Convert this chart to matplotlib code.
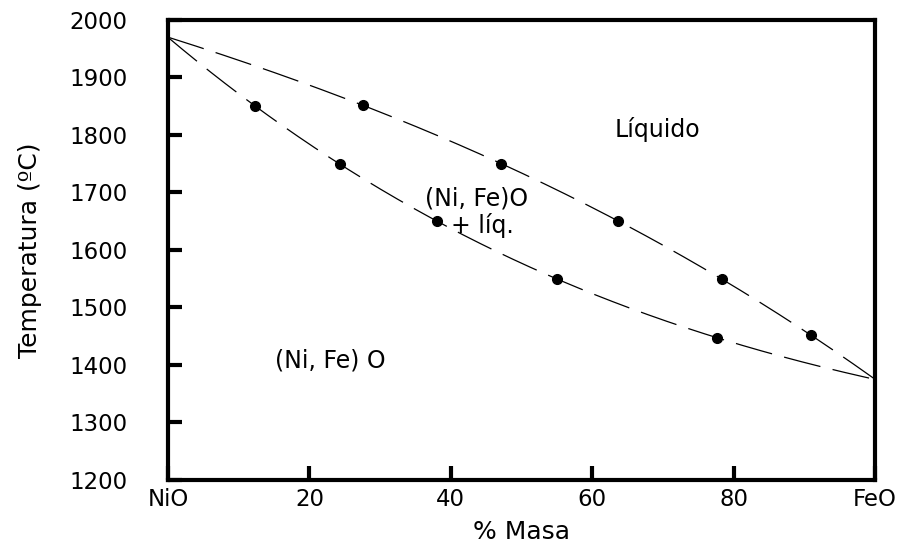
import numpy as np
import matplotlib.pyplot as plt

# Phase diagram NiO - FeO: measured points on the two boundary curves
x_end = np.array([0.0, 100.0])
t_end = np.array([1970.0, 1375.0])

x_lower = np.array([12.3, 24.3, 38.0, 55.0, 77.7])
t_lower = np.array([1850, 1750, 1650, 1550, 1447])

x_upper = np.array([27.6, 47.1, 63.6, 78.4, 90.9])
t_upper = np.array([1852, 1750, 1650, 1550, 1452])

x_ticks = [0, 20, 40, 60, 80, 100]
x_labels = ['NiO', '20', '40', '60', '80', 'FeO']
y_ticks = [1200, 1300, 1400, 1500, 1600, 1700, 1800, 1900, 2000]

plt.rcParams['font.family'] = 'DejaVu Sans'
plt.rcParams['lines.scale_dashes'] = False

fig = plt.figure(figsize=(8.97, 5.46), dpi=100)
ax = fig.add_axes([0.1873, 0.1209, 0.7882, 0.8425])

# Smooth boundary curves fitted through the points and the pure-oxide melting points
xs = np.linspace(0, 100, 300)
for xp, tp in [(x_lower, t_lower), (x_upper, t_upper)]:
    xx = np.concatenate([x_end[:1], xp, x_end[1:]])
    tt = np.concatenate([t_end[:1], tp, t_end[1:]])
    coef = np.polyfit(xx, tt, 3)
    ax.plot(xs, np.polyval(coef, xs), color='black', lw=0.9,
            dashes=(27, 9), clip_on=False)
    ax.plot(xp, tp, 'o', color='black', ms=7)

ax.text(69.2, 1810, 'Líquido', fontsize=17, ha='center', va='center')
ax.text(43.7, 1690, '(Ni, Fe)O', fontsize=17, ha='center', va='center')
ax.text(44.5, 1643, '+ líq.', fontsize=17, ha='center', va='center')
ax.text(23.0, 1407, '(Ni, Fe) O', fontsize=17, ha='center', va='center')

ax.set_xlim(0, 100)
ax.set_ylim(1200, 2000)
ax.set_xticks(x_ticks)
ax.set_xticklabels(x_labels)
ax.set_yticks(y_ticks)

for s in ax.spines.values():
    s.set_linewidth(3)
ax.tick_params(direction='in', length=10, width=3, labelsize=16.5)
ax.tick_params(axis='y', pad=29)
ax.tick_params(axis='x', pad=6)

ax.set_xlabel('% Masa', fontsize=18, labelpad=6)
ax.set_ylabel('Temperatura (ºC)', fontsize=18, labelpad=20)

fig.savefig('out.png', dpi=100)
